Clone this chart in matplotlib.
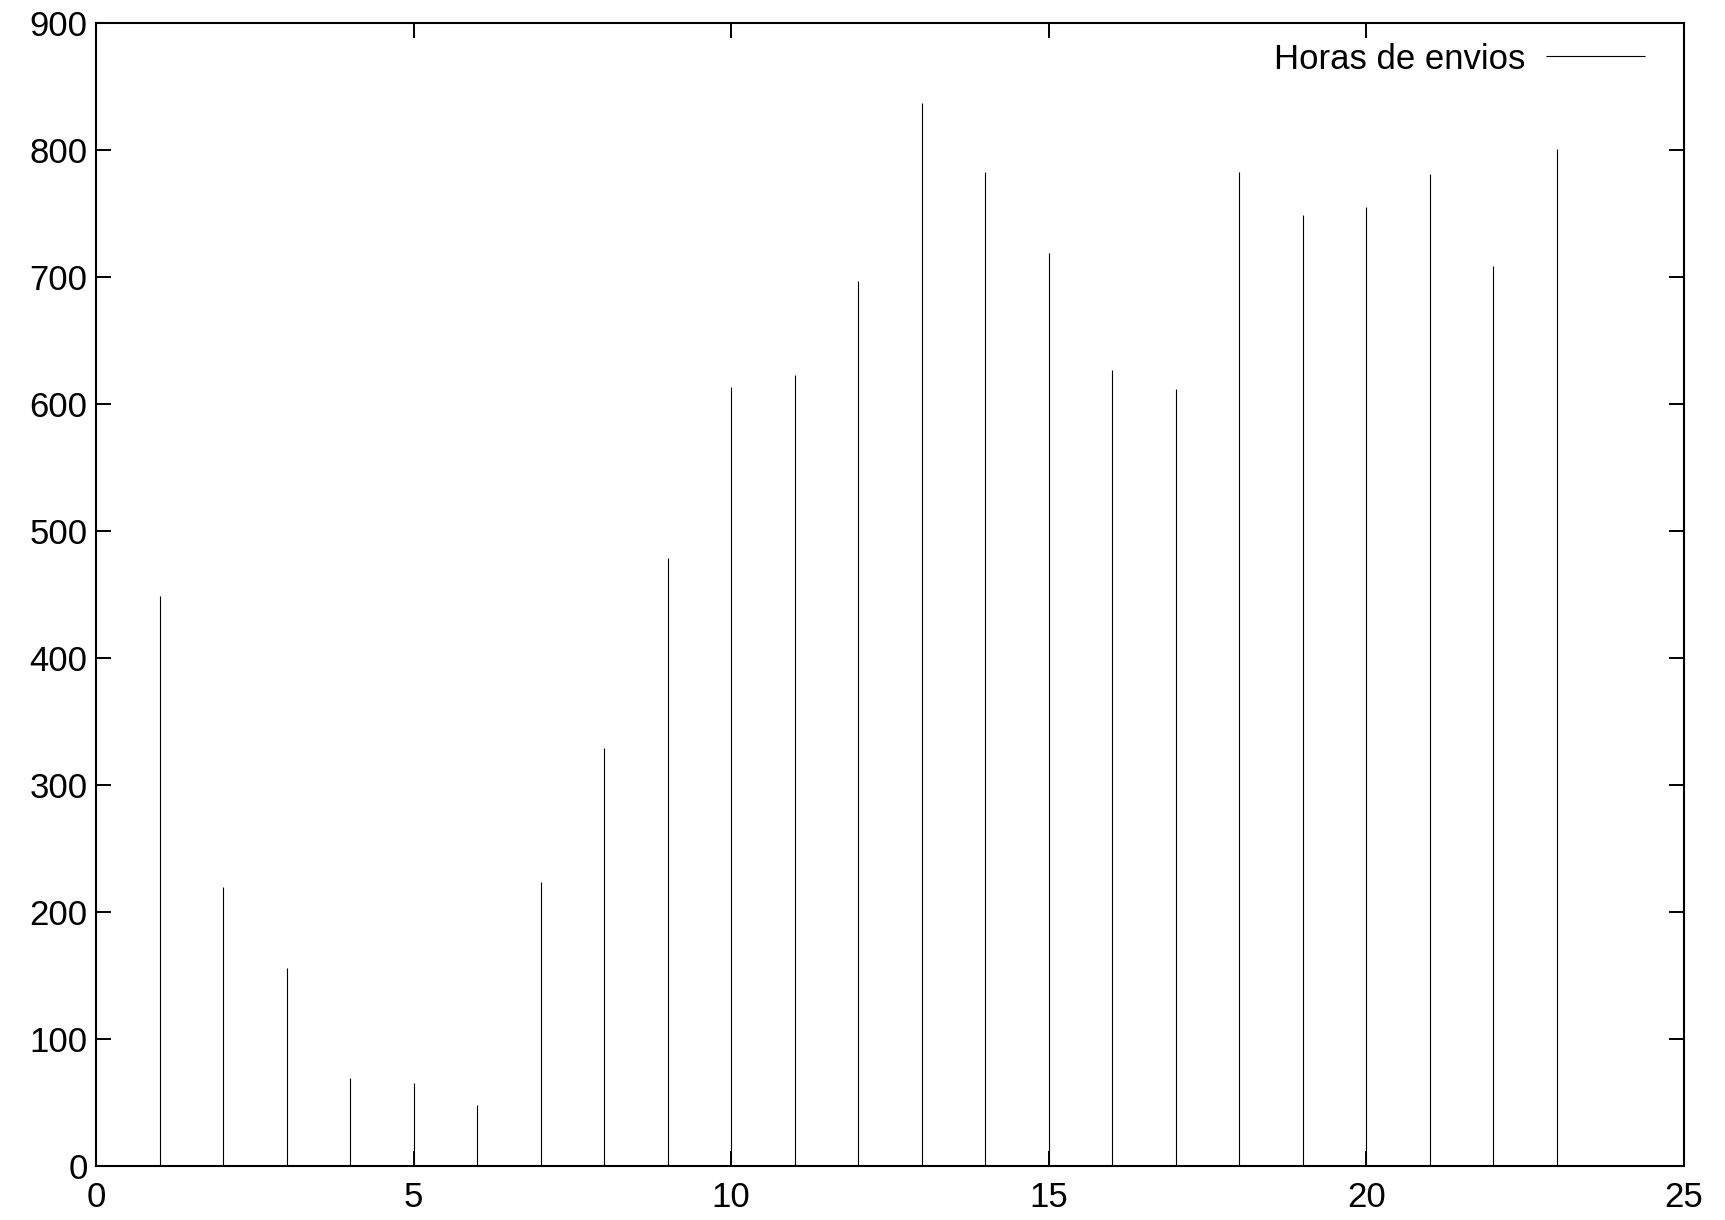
import matplotlib
matplotlib.use("Agg")
import matplotlib.pyplot as plt
from matplotlib.ticker import MultipleLocator

hours = [1, 2, 3, 4, 5, 6, 7, 8, 9, 10, 11, 12, 13, 14, 15, 16, 17, 18, 19, 20, 21, 22, 23]
counts = [449, 220, 156, 69, 65, 48, 224, 329, 479, 613, 623, 697, 837, 783, 719, 627, 612, 783, 749, 755, 781, 709, 801]
series_label = "Horas de envios"

plt.rcParams['font.family'] = ['Liberation Sans', 'DejaVu Sans']

fig = plt.figure(figsize=(17.25, 12.2), dpi=100)
ax = fig.add_axes([96/1725, 1-1166/1220, (1684-96)/1725, (1166-23)/1220])

ax.vlines(hours, 0, counts, colors='black', linewidth=0.8, label=series_label)

ax.set_xlim(0, 25)
ax.set_ylim(0, 900)
ax.xaxis.set_major_locator(MultipleLocator(5))
ax.yaxis.set_major_locator(MultipleLocator(100))
ax.tick_params(direction='in', length=11, width=1.4, top=True, right=True,
               labelsize=25)
ax.tick_params(axis='x', pad=11)
ax.tick_params(axis='y', pad=6)
for s in ax.spines.values():
    s.set_linewidth(1.5)

leg = ax.legend(loc='upper right', frameon=False, markerfirst=False,
                fontsize=25, handlelength=2.85, handletextpad=0.6,
                borderaxespad=0.0, bbox_to_anchor=(0.984, 0.995))

fig.savefig("out.png", dpi=100)
